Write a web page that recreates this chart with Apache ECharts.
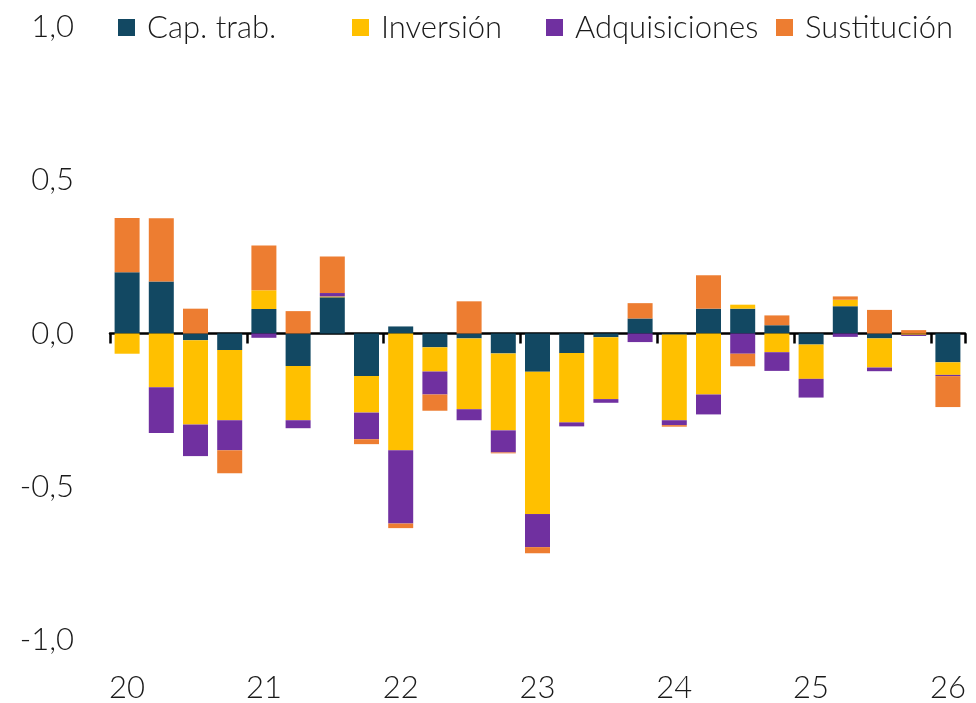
<!DOCTYPE html>
<html>
<head>
<meta charset="utf-8">
<script src="https://cdn.jsdelivr.net/npm/echarts@6/dist/echarts.min.js"></script>
<style>
  html, body { margin: 0; padding: 0; background: #fff; }
  #chart { width: 976px; height: 703px; }
</style>
</head>
<body>
<div id="chart"></div>
<script>
// trimestres 2020T1 .. 2026T1
var quarters = ['1-20', '2-20', '3-20', '4-20', '1-21', '2-21', '3-21', '4-21', '1-22', '2-22', '3-22', '4-22',
  '1-23', '2-23', '3-23', '4-23', '1-24', '2-24', '3-24', '4-24', '1-25', '2-25', '3-25', '4-25', '1-26']

var capTrab = [0.200, 0.170, -0.022, -0.054, 0.080, -0.106, 0.118, -0.139, 0.023, -0.045, -0.016, -0.065,
  -0.125, -0.064, -0.012, 0.049, -0.003, 0.081, 0.081, 0.027, -0.036, 0.089, -0.016, 0, -0.094]
var inversion = [-0.066, -0.175, -0.275, -0.229, 0.061, -0.177, 0.003, -0.119, -0.381, -0.079, -0.231, -0.251,
  -0.464, -0.226, -0.202, 0, -0.280, -0.199, 0.013, -0.061, -0.112, 0.021, -0.095, -0.004, -0.041]
var adquisiciones = [0, -0.150, -0.103, -0.098, -0.014, -0.026, 0.011, -0.087, -0.239, -0.075, -0.036, -0.072,
  -0.108, -0.013, -0.012, -0.028, -0.016, -0.065, -0.066, -0.061, -0.061, -0.011, -0.012, -0.004, -0.004]
var sustitucion = [0.177, 0.206, 0.081, -0.075, 0.146, 0.073, 0.119, -0.016, -0.015, -0.053, 0.105, -0.003,
  -0.020, 0, 0, 0.050, -0.005, 0.109, -0.041, 0.032, 0, 0.011, 0.077, 0.011, -0.101]

var colors = ['#124862', '#FFC000', '#7030A0', '#ED7D31']
var names = ['Cap. trab.', 'Inversión', 'Adquisiciones', 'Sustitución']
var font = { fontFamily: 'Lato', fontWeight: 300, fontSize: 31, color: '#1a1a1a' }

var chart = echarts.init(document.getElementById('chart'))

function bar(name, data, color) {
  return {
    name: name,
    type: 'bar',
    stack: 'total',
    barWidth: 25,
    xAxisIndex: 0,
    data: data,
    itemStyle: { color: color }
  }
}

function legendAt(left, name) {
  return {
    left: left,
    top: 12,
    padding: 0,
    itemWidth: 17,
    itemHeight: 17,
    itemGap: 0,
    icon: 'rect',
    selectedMode: false,
    data: [name],
    textStyle: Object.assign({}, font, { padding: [0, 0, 0, 7] })
  }
}

var option = {
  animation: false,
  color: colors,
  legend: [
    legendAt(118, names[0]),
    legendAt(352, names[1]),
    legendAt(546, names[2]),
    legendAt(776, names[3])
  ],
  grid: {
    left: 110,
    right: 11,
    top: 27,
    bottom: 62,
    containLabel: false
  },
  xAxis: [
    {
      type: 'category',
      data: quarters,
      axisLine: { onZero: true, lineStyle: { color: '#000', width: 2.5 } },
      axisTick: {
        show: true,
        length: 10,
        interval: 3,
        lineStyle: { color: '#000', width: 2.5 }
      },
      axisLabel: { show: false }
    },
    {
      type: 'category',
      data: quarters,
      position: 'bottom',
      axisLine: { show: false, onZero: false },
      axisTick: { show: false },
      axisLabel: Object.assign({
        interval: 3,
        margin: 32,
        formatter: function(v) { return v.split('-')[1] }
      }, font)
    }
  ],
  yAxis: {
    type: 'value',
    min: -1,
    max: 1,
    interval: 0.5,
    axisLine: { show: false },
    axisTick: { show: false },
    splitLine: { show: false },
    axisLabel: Object.assign({
      margin: 36,
      formatter: function(v) { return v.toFixed(1).replace('.', ',') }
    }, font)
  },
  series: [
    bar(names[0], capTrab, colors[0]),
    bar(names[1], inversion, colors[1]),
    bar(names[2], adquisiciones, colors[2]),
    bar(names[3], sustitucion, colors[3])
  ]
}

chart.setOption(option)
</script>
</body>
</html>
